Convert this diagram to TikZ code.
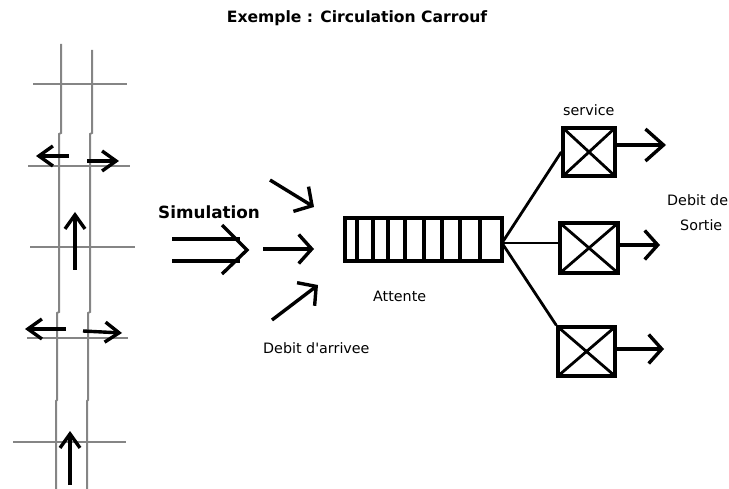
\documentclass[tikz,border=0pt]{standalone}
\usepackage{fontspec}
\setmainfont{DejaVu Sans}
\newfontfamily\plainfont{DejaVu Sans}
\usetikzlibrary{arrows.meta,calc}
\begin{document}
\begin{tikzpicture}[x=1pt,y=-1pt,
  road/.style={draw=black!48,line width=2pt},
  ink/.style={draw=black,line width=3.4pt},
  lbl/.style={inner sep=0pt,anchor=base west,font=\plainfont\fontsize{14.3}{17}\selectfont},
  barbbig/.style={ink,-{Straight Barb[length=18pt,width=32pt,line width=3.4pt]}},
  barbmid/.style={ink,-{Straight Barb[length=13pt,width=29pt,line width=3.4pt]}},
  barbsmall/.style={ink,-{Straight Barb[length=14pt,width=20pt,line width=3.4pt]}},
  servbox/.style={draw=black,line width=3.4pt,minimum width=52pt,minimum height=48pt,inner sep=0pt,
    path picture={\draw[line width=2.8pt] (path picture bounding box.south west) -- (path picture bounding box.north east)
      (path picture bounding box.north west) -- (path picture bounding box.south east);}},
  queue/.style={draw=black,line width=3.6pt,minimum width=157pt,minimum height=43pt,inner sep=0pt}
]
\useasboundingbox (0,0) rectangle (729,489);

% title
\node[inner sep=0pt,anchor=base,font=\bfseries\fontsize{15.6}{18}\selectfont] (title) at (357,23) {Exemple : Circulation Carrouf};

% road
\draw[road] (61,44) -- (61,133) -- (59,134) -- (59,312) -- (57,313) -- (57,400) -- (56,401) -- (56,489);
\draw[road] (92,50) -- (92,133) -- (90,134) -- (90,312) -- (88,313) -- (88,400) -- (87,401) -- (87,489);
\draw[road] (33,84) -- (127,84);
\draw[road] (28,166) -- (130,166);
\draw[road] (30,247) -- (135,247);
\draw[road] (27,338) -- (128,338);
\draw[road] (13,442) -- (126,442);

% road arrows
\coordinate (la1s) at (69,156); \coordinate (la1e) at (36,156);
\coordinate (ra1s) at (87,161); \coordinate (ra1e) at (119,161);
\coordinate (ua1s) at (75,270); \coordinate (ua1e) at (75,212);
\coordinate (la2s) at (66,329); \coordinate (la2e) at (25,329);
\coordinate (ra2s) at (83,331); \coordinate (ra2e) at (122,333);
\coordinate (ua2s) at (70,485); \coordinate (ua2e) at (70,431);
\draw[barbsmall] (la1s) -- (la1e);
\draw[barbsmall] (ra1s) -- (ra1e);
\draw[barbsmall] (ua1s) -- (ua1e);
\draw[barbsmall] (la2s) -- (la2e);
\draw[barbsmall] (ra2s) -- (ra2e);
\draw[barbsmall] (ua2s) -- (ua2e);

% simulation
\node[lbl,font=\bfseries\fontsize{16.8}{20}\selectfont] (sim) at (158,219) {Simulation};
\coordinate (d1s) at (172,239); \coordinate (d1e) at (240,239);
\coordinate (d2s) at (172,261); \coordinate (d2e) at (240,261);
\coordinate (dh1) at (222,225); \coordinate (dtip) at (247,250); \coordinate (dh2) at (222,274);
\draw[ink] (d1s) -- (d1e);
\draw[ink] (d2s) -- (d2e);
\draw[ink,line join=miter] (dh1) -- (dtip) -- (dh2);

% arrival arrows
\coordinate (a1s) at (270,180); \coordinate (a1e) at (314,207);
\coordinate (a2s) at (263,249); \coordinate (a2e) at (314,249);
\coordinate (a3s) at (272,320); \coordinate (a3e) at (318,285);
\draw[barbmid] (a1s) -- (a1e);
\draw[barbmid] (a2s) -- (a2e);
\draw[barbmid] (a3s) -- (a3e);
\node[lbl] (arr) at (263,353) {Debit d'arrivee};

% queue
\node[queue] (q) at (423.5,239.5) {};
\foreach \x in {357,373,388,405,424,442,460,480}
  \draw[black,line width=3.2pt] (\x,218) -- (\x,262);
\node[lbl] (att) at (373,302) {Attente};

% service boxes
\node[servbox] (b1) at (589,152) {};
\node[servbox,minimum width=58pt,minimum height=50pt] (b2) at (589,248) {};
\node[servbox,minimum width=57pt,minimum height=49pt] (b3) at (586.5,351.5) {};
\coordinate (fan) at (502,243);
\draw[black,line width=2.8pt] (fan) -- (b1.west);
\draw[black,line width=2.8pt] (fan) -- (b2.west |- fan);
\draw[black,line width=2.8pt] (fan) -- (b3.north west);
\node[lbl] (serv) at (563,116) {service};

% output arrows
\coordinate (o1) at (666,145);
\coordinate (o2) at (660,245);
\coordinate (o3) at (664,349);
\draw[barbbig] (b1.east |- o1) -- (o1);
\draw[barbmid] (b2.east |- o2) -- (o2);
\draw[barbmid] (b3.east |- o3) -- (o3);
\node[lbl] (deb) at (667,206) {Debit de};
\node[lbl] (sort) at (680,231) {Sortie};
\end{tikzpicture}
\end{document}
